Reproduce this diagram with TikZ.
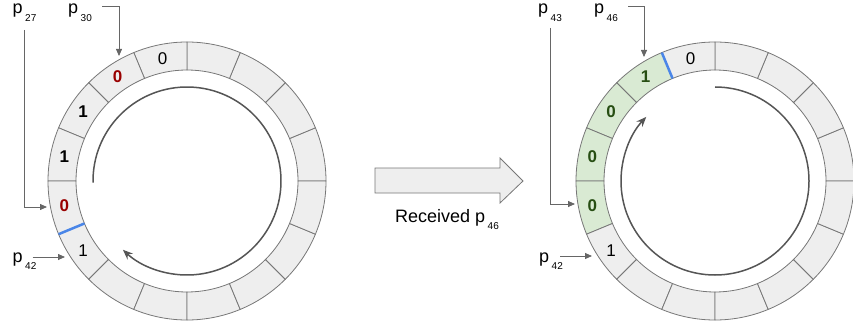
\documentclass[tikz,border=0pt]{standalone}
\usepackage{fontspec}
\setmainfont{Liberation Sans}
\usetikzlibrary{arrows.meta,calc}
\definecolor{segfill}{HTML}{EEEEEE}
\definecolor{segline}{HTML}{777777}
\definecolor{greenfill}{HTML}{D9EAD3}
\definecolor{greentext}{HTML}{274E13}
\definecolor{redtext}{HTML}{990000}
\definecolor{blueline}{HTML}{4A86E8}
\definecolor{arcline}{HTML}{555555}
\definecolor{ptrline}{HTML}{666666}
\newcommand\ringsector[3]{%
  \path[draw=segline, line width=0.8pt, fill=#3]
    ($(#1)+(#2:139pt)$) arc[start angle=#2, end angle={#2+22.5}, radius=139pt]
    -- ($(#1)+({#2+22.5}:111pt)$) arc[start angle={#2+22.5}, end angle=#2, radius=111pt] -- cycle;}
\newcommand\psub[2]{#1\hspace{2.5pt}\raisebox{-7.5pt}{\fontsize{10}{10}\selectfont #2}}
\begin{document}
\begin{tikzpicture}[x=1pt,y=1pt,
  dig/.style={font=\fontsize{17}{17}\selectfont, inner sep=0pt},
  bdig/.style={dig, font=\fontsize{17}{17}\selectfont\bfseries},
  lbl/.style={font=\fontsize{18}{18}\selectfont, inner sep=0pt, anchor=base},
  ptr/.style={draw=ptrline, line width=0.8pt, -{Triangle[length=7pt,width=6pt]}},
  flow/.style={draw=arcline, line width=1.5pt, -{Stealth[length=10pt,width=8pt]}},
  sep/.style={draw=blueline, line width=2.5pt},
  bigarrow/.style={draw=segline, line width=0.8pt, fill=segfill}]
\useasboundingbox (0,0) rectangle (853,327);
\coordinate (L) at (187,146);
\coordinate (R) at (715,146);
% left ring
\foreach \k in {0,...,15}{\pgfmathsetmacro\s{22.5*\k}\ringsector{L}{\s}{segfill}}
\draw[sep] ($(L)+(202.5:111pt)$) -- ($(L)+(202.5:139pt)$);
\node[dig] (la) at ($(L)+(101.25:125pt)$) {0};
\node[bdig, text=redtext] (lb) at ($(L)+(123.75:125pt)$) {0};
\node[bdig] (lc) at ($(L)+(146.25:125pt)$) {1};
\node[bdig] (ld) at ($(L)+(168.75:125pt)$) {1};
\node[bdig, text=redtext] (le) at ($(L)+(191.25:125pt)$) {0};
\node[dig] (lf) at ($(L)+(213.75:125pt)$) {1};
\draw[flow] ($(L)+(181:94pt)$) arc[start angle=181, end angle=-133, radius=94pt];
% right ring
\foreach \k in {0,...,15}{\pgfmathsetmacro\s{22.5*\k}
  \ifnum\k>4 \ifnum\k<9 \ringsector{R}{\s}{greenfill}\else\ringsector{R}{\s}{segfill}\fi
  \else\ringsector{R}{\s}{segfill}\fi}
\draw[sep] ($(R)+(112.5:111pt)$) -- ($(R)+(112.5:139pt)$);
\node[dig] (ra) at ($(R)+(101.25:125pt)$) {0};
\node[bdig, text=greentext] (rb) at ($(R)+(123.75:125pt)$) {1};
\node[bdig, text=greentext] (rc) at ($(R)+(146.25:125pt)$) {0};
\node[bdig, text=greentext] (rd) at ($(R)+(168.75:125pt)$) {0};
\node[bdig, text=greentext] (re) at ($(R)+(191.25:125pt)$) {0};
\node[dig] (rf) at ($(R)+(213.75:125pt)$) {1};
\draw[flow] ($(R)+(90:94pt)$) arc[start angle=90, end angle=-223, radius=94pt];
% pointer labels, left
\node[lbl] (p27) at (24.5,313) {\psub{p}{27}};
\coordinate (s27) at (24,297);
\coordinate (t27) at (47,120);
\draw[ptr] (s27) |- (t27);
\node[lbl] (p30) at (80,313) {\psub{p}{30}};
\coordinate (s30) at (102,321);
\coordinate (t30) at (119,271);
\draw[ptr] (s30) -| (t30);
\node[lbl] (p42) at (24.5,65) {\psub{p}{42}};
\coordinate (t42) at (65,70);
\draw[ptr] (p42.base east |- t42) ++(-4,0) coordinate (s42) (s42) -- (t42);
% pointer labels, right
\node[lbl] (p43) at (550,313) {\psub{p}{43}};
\coordinate (s43) at (550,299);
\coordinate (t43) at (575,123);
\draw[ptr] (s43) |- (t43);
\node[lbl] (p46) at (606,313) {\psub{p}{46}};
\coordinate (s46) at (628,321);
\coordinate (t46) at (644,270);
\draw[ptr] (s46) -| (t46);
\node[lbl] (q42) at (551,65) {\psub{p}{42}};
\coordinate (t42r) at (592,71);
\coordinate (s42r) at (560,71);
\draw[ptr] (s42r) -- (t42r);
% big arrow
\path[bigarrow] (375,159) -- (500,159) -- (500,169) -- (523,146) -- (500,124) -- (500,134) -- (375,134) -- cycle;
\node[lbl] (recv) at (447,105) {Received \psub{p}{46}};
\end{tikzpicture}
\end{document}
